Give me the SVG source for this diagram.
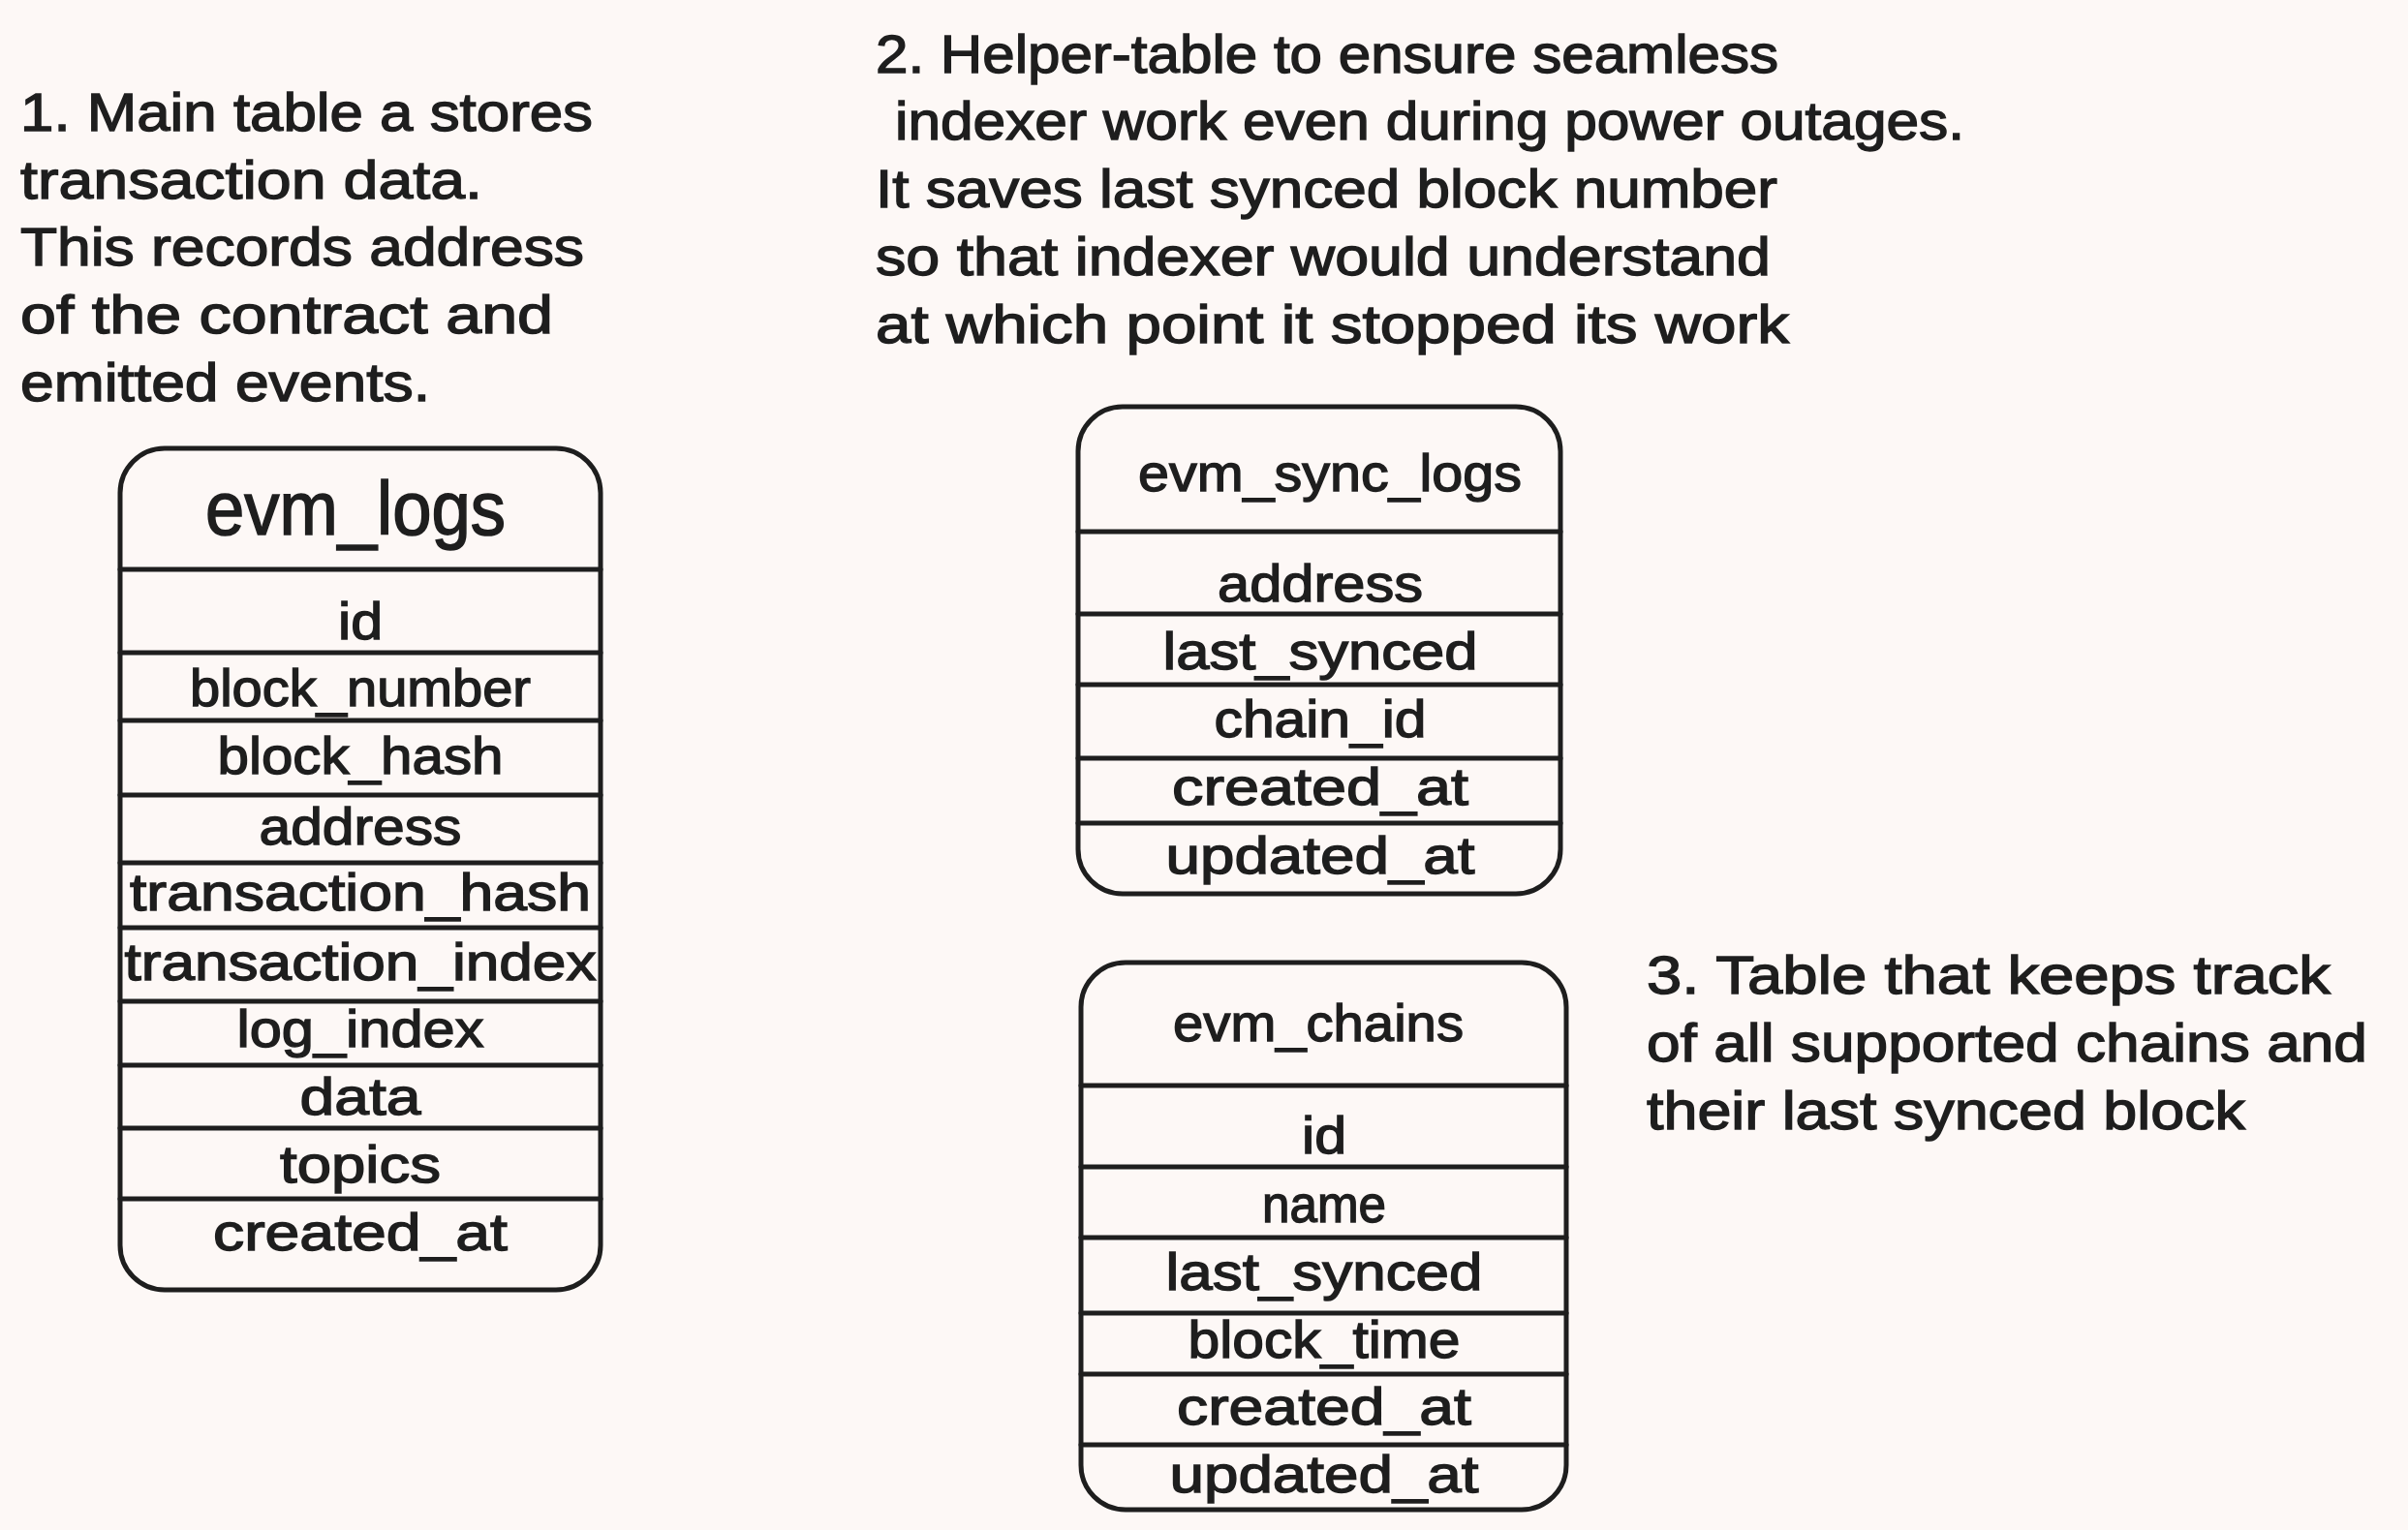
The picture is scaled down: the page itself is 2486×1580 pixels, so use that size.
<svg xmlns="http://www.w3.org/2000/svg" width="2486" height="1580" viewBox="0 0 2486 1580">
<style>
.t{font-family:"Liberation Sans","DejaVu Sans",sans-serif;font-size:56px;fill:#1e1e1e;stroke:#1e1e1e;stroke-width:1.4px}
.f{font-family:"Liberation Sans","DejaVu Sans",sans-serif;font-size:54px;fill:#1e1e1e;stroke:#1e1e1e;stroke-width:1.4px;text-anchor:middle}
.h{font-family:"Liberation Sans","DejaVu Sans",sans-serif;font-size:78px;fill:#1e1e1e;stroke:#1e1e1e;stroke-width:1.6px;text-anchor:middle}
.box{fill:none;stroke:#1e1e1e;stroke-width:5}
.sep{stroke:#1e1e1e;stroke-width:5;stroke-linecap:round}
</style>
<rect width="2486" height="1580" fill="#fdf8f6"/>
<g id="note1">
<text class="t" x="21" y="135" textLength="591" lengthAdjust="spacingAndGlyphs">1. Main table a stores</text>
<text class="t" x="21" y="205" textLength="477" lengthAdjust="spacingAndGlyphs">transaction data.</text>
<text class="t" x="21" y="274" textLength="582" lengthAdjust="spacingAndGlyphs">This records address</text>
<text class="t" x="21" y="344" textLength="550" lengthAdjust="spacingAndGlyphs">of the contract and</text>
<text class="t" x="21" y="414" textLength="423" lengthAdjust="spacingAndGlyphs">emitted events.</text>
</g>
<g id="note2">
<text class="t" x="904" y="75" textLength="932" lengthAdjust="spacingAndGlyphs">2. Helper-table to ensure seamless</text>
<text class="t" x="924" y="144" textLength="1104" lengthAdjust="spacingAndGlyphs">indexer work even during power outages.</text>
<text class="t" x="904" y="214" textLength="931" lengthAdjust="spacingAndGlyphs">It saves last synced block number</text>
<text class="t" x="904" y="284" textLength="924" lengthAdjust="spacingAndGlyphs">so that indexer would understand</text>
<text class="t" x="904" y="354" textLength="943" lengthAdjust="spacingAndGlyphs">at which point it stopped its work</text>
</g>
<g id="note3">
<text class="t" x="1700" y="1026" textLength="706" lengthAdjust="spacingAndGlyphs">3. Table that keeps track</text>
<text class="t" x="1700" y="1096" textLength="744" lengthAdjust="spacingAndGlyphs">of all supported chains and</text>
<text class="t" x="1700" y="1166" textLength="618" lengthAdjust="spacingAndGlyphs">their last synced block</text>
</g>
<g id="evm_logs">
<rect class="box" x="124" y="463" width="496" height="869" rx="46"/>
<line class="sep" x1="124" y1="588" x2="620" y2="588"/>
<line class="sep" x1="124" y1="674" x2="620" y2="674"/>
<line class="sep" x1="124" y1="744" x2="620" y2="744"/>
<line class="sep" x1="124" y1="821" x2="620" y2="821"/>
<line class="sep" x1="124" y1="891" x2="620" y2="891"/>
<line class="sep" x1="124" y1="958" x2="620" y2="958"/>
<line class="sep" x1="124" y1="1034" x2="620" y2="1034"/>
<line class="sep" x1="124" y1="1100" x2="620" y2="1100"/>
<line class="sep" x1="124" y1="1165" x2="620" y2="1165"/>
<line class="sep" x1="124" y1="1238" x2="620" y2="1238"/>
<text class="h" x="367" y="552" textLength="310" lengthAdjust="spacingAndGlyphs">evm_logs</text>
<text class="f" x="372" y="660" textLength="46" lengthAdjust="spacingAndGlyphs">id</text>
<text class="f" x="372" y="729" textLength="352" lengthAdjust="spacingAndGlyphs">block_number</text>
<text class="f" x="372" y="799" textLength="295" lengthAdjust="spacingAndGlyphs">block_hash</text>
<text class="f" x="372" y="872" textLength="209" lengthAdjust="spacingAndGlyphs">address</text>
<text class="f" x="372" y="940" textLength="476" lengthAdjust="spacingAndGlyphs">transaction_hash</text>
<text class="f" x="372" y="1012" textLength="487" lengthAdjust="spacingAndGlyphs">transaction_index</text>
<text class="f" x="372" y="1081" textLength="255" lengthAdjust="spacingAndGlyphs">log_index</text>
<text class="f" x="372" y="1151" textLength="125" lengthAdjust="spacingAndGlyphs">data</text>
<text class="f" x="372" y="1221" textLength="166" lengthAdjust="spacingAndGlyphs">topics</text>
<text class="f" x="372" y="1291" textLength="304" lengthAdjust="spacingAndGlyphs">created_at</text>
</g>
<g id="evm_sync_logs">
<rect class="box" x="1113" y="420" width="498" height="503" rx="46"/>
<line class="sep" x1="1113" y1="549" x2="1611" y2="549"/>
<line class="sep" x1="1113" y1="634" x2="1611" y2="634"/>
<line class="sep" x1="1113" y1="707" x2="1611" y2="707"/>
<line class="sep" x1="1113" y1="783" x2="1611" y2="783"/>
<line class="sep" x1="1113" y1="850" x2="1611" y2="850"/>
<text class="f" x="1373" y="507" textLength="396" lengthAdjust="spacingAndGlyphs">evm_sync_logs</text>
<text class="f" x="1363" y="621" textLength="212" lengthAdjust="spacingAndGlyphs">address</text>
<text class="f" x="1363" y="691" textLength="325" lengthAdjust="spacingAndGlyphs">last_synced</text>
<text class="f" x="1363" y="761" textLength="219" lengthAdjust="spacingAndGlyphs">chain_id</text>
<text class="f" x="1363" y="831" textLength="306" lengthAdjust="spacingAndGlyphs">created_at</text>
<text class="f" x="1363" y="902" textLength="319" lengthAdjust="spacingAndGlyphs">updated_at</text>
</g>
<g id="evm_chains">
<rect class="box" x="1116" y="994" width="501" height="565" rx="46"/>
<line class="sep" x1="1116" y1="1121" x2="1617" y2="1121"/>
<line class="sep" x1="1116" y1="1205" x2="1617" y2="1205"/>
<line class="sep" x1="1116" y1="1278" x2="1617" y2="1278"/>
<line class="sep" x1="1116" y1="1356" x2="1617" y2="1356"/>
<line class="sep" x1="1116" y1="1419" x2="1617" y2="1419"/>
<line class="sep" x1="1116" y1="1492" x2="1617" y2="1492"/>
<text class="f" x="1361" y="1075" textLength="300" lengthAdjust="spacingAndGlyphs">evm_chains</text>
<text class="f" x="1367" y="1191" textLength="46" lengthAdjust="spacingAndGlyphs">id</text>
<text class="f" x="1367" y="1262" textLength="128" lengthAdjust="spacingAndGlyphs">name</text>
<text class="f" x="1367" y="1332" textLength="327" lengthAdjust="spacingAndGlyphs">last_synced</text>
<text class="f" x="1367" y="1402" textLength="281" lengthAdjust="spacingAndGlyphs">block_time</text>
<text class="f" x="1367" y="1471" textLength="304" lengthAdjust="spacingAndGlyphs">created_at</text>
<text class="f" x="1367" y="1541" textLength="319" lengthAdjust="spacingAndGlyphs">updated_at</text>
</g>
<g id="connectors"/>
</svg>
